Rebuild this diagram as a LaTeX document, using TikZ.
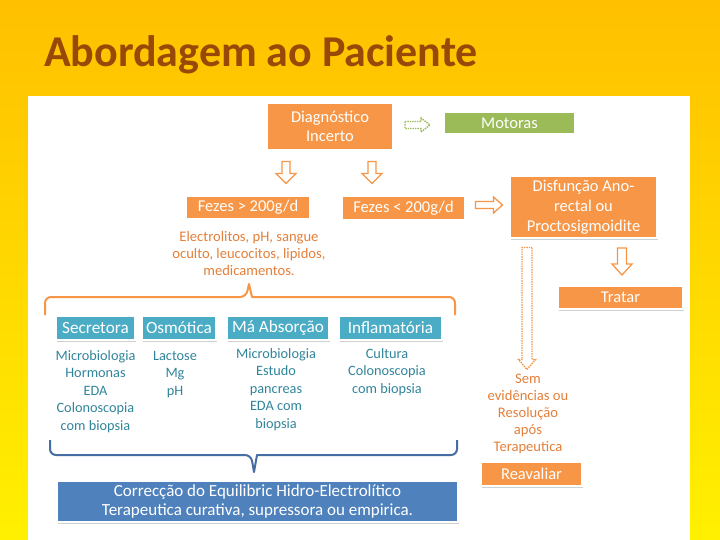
\documentclass[tikz,border=0pt]{standalone}
\usepackage{fontspec}
\setmainfont{Carlito}
\usetikzlibrary{shadows}
\definecolor{bgtop}{RGB}{255,192,0}
\definecolor{bgbot}{RGB}{255,240,0}
\definecolor{titlec}{RGB}{152,72,7}
\definecolor{orfill}{RGB}{247,150,70}
\definecolor{ortext}{RGB}{228,128,58}
\definecolor{grfill}{RGB}{155,187,89}
\definecolor{cyfill}{RGB}{75,172,198}
\definecolor{tealtext}{RGB}{49,133,155}
\definecolor{blfill}{RGB}{79,129,189}
\definecolor{bldark}{RGB}{70,110,165}
\tikzset{
  x=1pt,y=-1pt,
  boxbase/.style={draw=white,line width=1.2pt,text=white,align=center,inner sep=0pt,
    font=\fontsize{16.5}{19.5}\selectfont,
    drop shadow={shadow xshift=1.2pt,shadow yshift=-1.5pt,opacity=0.3,fill=black!60}},
  orbox/.style={boxbase,fill=orfill},
  grbox/.style={boxbase,fill=grfill},
  cybox/.style={boxbase,fill=cyfill,font=\fontsize{17.2}{20}\selectfont},
  blbox/.style={boxbase,fill=blfill,font=\fontsize{17}{19.5}\selectfont},
  ortxt/.style={text=ortext,align=center,inner sep=0pt,font=\fontsize{14.6}{17}\selectfont},
  tltxt/.style={text=tealtext,align=center,inner sep=0pt,font=\fontsize{14.3}{17.5}\selectfont},
  solidarrow/.style={draw=orfill,fill=white,line width=1.3pt,line join=miter},
  dottedarrow/.style={fill=white,line width=1.4pt,dash pattern=on 1.4pt off 1pt},
  pics/barrow/.style n args={4}{code={%
    \path[pic actions] (-#1/2,-#2) -- ({#1/2-#4},-#2) -- ({#1/2-#4},-#3) -- (#1/2,0)
      -- ({#1/2-#4},#3) -- ({#1/2-#4},#2) -- (-#1/2,#2) -- cycle;}},
  bracec/.style={line width=2pt,line join=round,rounded corners=6pt}
}
\begin{document}
\begin{tikzpicture}
\useasboundingbox (0,0) rectangle (720,540);
\shade[top color=bgtop,bottom color=bgbot] (0,0) rectangle (720,540);
\fill[white] (28,96) rectangle (690,540);
\node[anchor=base west,text=titlec,inner sep=0pt,font=\fontsize{44}{48}\selectfont\bfseries] (title) at (44,67) {Abordagem ao Paciente};

% top boxes
\node[orbox,minimum width=126pt,minimum height=47pt] (diag) at (330,126.5) {Diagnóstico\\Incerto};
\node[grbox,minimum width=131pt,minimum height=22pt] (mot) at (509.5,123) {Motoras};
\node[orbox,minimum width=124pt,minimum height=23pt] (fez1) at (248,207.5) {Fezes > 200g/d};
\node[orbox,minimum width=123pt,minimum height=24pt] (fez2) at (403.5,208) {Fezes < 200g/d};
\node[orbox,minimum width=147pt,minimum height=62pt,font=\fontsize{16.5}{20}\selectfont] (disf) at (583.5,207) {Disfunção Ano-\\rectal ou\\Proctosigmoidite};
\node[orbox,minimum width=125pt,minimum height=23pt] (trat) at (620.5,297.5) {Tratar};
\node[orbox,minimum width=101pt,minimum height=24pt] (reav) at (531.5,474) {Reavaliar};

% block arrows
\coordinate (a0) at (417.5,125);
\coordinate (a1) at (286,172.5);
\coordinate (a2) at (372,172.5);
\coordinate (a3) at (489,205);
\coordinate (a4) at (622,261.5);
\coordinate (a5) at (527,308.5);
\pic[dottedarrow,draw=grfill] at (a0) {barrow={25}{3.5}{7}{9}};
\pic[solidarrow,rotate=-90] at (a1) {barrow={22}{4}{10}{10}};
\pic[solidarrow,rotate=-90] at (a2) {barrow={22}{4}{10}{10}};
\pic[solidarrow] at (a3) {barrow={27}{3.5}{8}{9}};
\pic[solidarrow,rotate=-90] at (a4) {barrow={27}{4.5}{10}{11}};
\pic[dottedarrow,draw=orfill,rotate=-90] at (a5) {barrow={122}{5}{8.5}{10}};

% texts
\node[ortxt] (elec) at (249,253) {Electrolitos, pH, sangue\\oculto, leucocitos, lipidos,\\medicamentos.};
\node[ortxt] (sem) at (528,414) {Sem\\evidências ou\\Resolução\\após\\Terapeutica};

% orange brace
\coordinate (ob1) at (45,315);
\coordinate (ob2) at (455,315);
\coordinate (obp) at (249,284);
\draw[orfill,bracec] (ob1) -- (45,297) -- (246,297) [rounded corners=0pt] -- (obp) -- (252,297) [rounded corners=6pt] -- (455,297) -- (ob2);

% category boxes
\node[cybox,minimum width=79pt,minimum height=24pt] (sec) at (95.5,328) {Secretora};
\node[cybox,minimum width=74pt,minimum height=24pt] (osm) at (179,328) {Osmótica};
\node[cybox,minimum width=102pt,minimum height=24pt] (ma) at (278,328) {Má Absorção};
\node[cybox,minimum width=103pt,minimum height=24pt] (inf) at (390.5,328) {Inflamatória};

\node[tltxt,anchor=north] (t1) at (95.5,350) {Microbiologia\\Hormonas\\EDA\\Colonoscopia\\com biopsia};
\node[tltxt,anchor=north] (t2) at (175,351) {Lactose\\Mg\\pH};
\node[tltxt,anchor=north] (t3) at (276,348) {Microbiologia\\Estudo\\pancreas\\EDA com\\biopsia};
\node[tltxt,anchor=north] (t4) at (387,348) {Cultura\\Colonoscopia\\com biopsia};

% blue brace
\coordinate (bb1) at (50,440);
\coordinate (bb2) at (457,440);
\coordinate (bbp) at (254,472);
\draw[bldark,bracec] (bb1) -- (50,455) -- (251,455) [rounded corners=0pt] -- (bbp) -- (257,455) [rounded corners=6pt] -- (457,455) -- (bb2);

\node[blbox,minimum width=401pt,minimum height=41pt] (corr) at (257.5,501.5) {Correcção do Equilibric Hidro-Electrolítico\\Terapeutica curativa, supressora ou empirica.};
\end{tikzpicture}
\end{document}
